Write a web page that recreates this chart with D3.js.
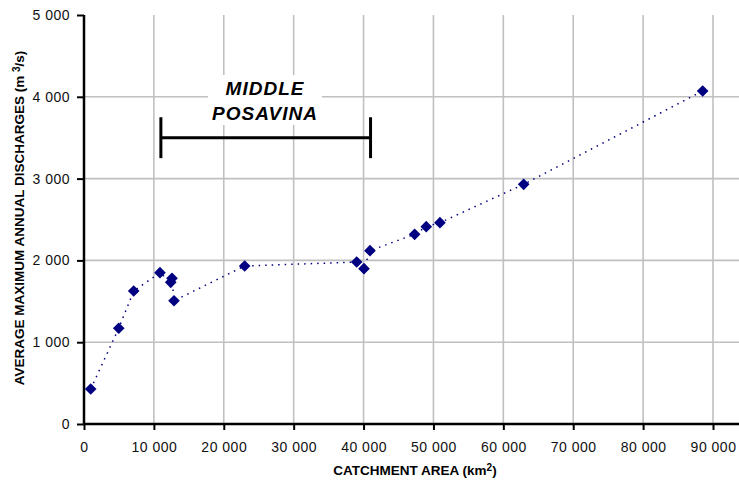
<!DOCTYPE html>
<html>
<head>
<meta charset="utf-8">
<script src="https://cdn.jsdelivr.net/npm/d3@7"></script>
<style>
  body { margin: 0; background: #fff; }
  svg { display: block; font-family: Arial, "Liberation Sans", sans-serif; }
  .tick text { font-size: 14px; fill: #111; }
</style>
</head>
<body>
<div id="container"><svg></svg></div>
<script>
let width = 739;
let height = 482;

// catchment area (km2) and average max annual discharge (m3/s)
let areas      = [960, 4970, 7110, 10870, 12410, 12590, 12880, 22990, 39020, 40060, 40920, 47310, 48970, 50930, 62910, 88520];
let discharges = [428, 1170, 1626, 1850, 1732, 1781, 1507, 1932, 1980, 1899, 2119, 2319, 2412, 2461, 2930, 4071];

let xTicks = [0, 10000, 20000, 30000, 40000, 50000, 60000, 70000, 80000, 90000];
let yTicks = [0, 1000, 2000, 3000, 4000, 5000];

// "middle posavina" bracket: from / to area, discharge level
let bracketArea = [11000, 41000];
let bracketLevel = 3500;
let bracketCap = 250;
let bracketLabel = ['MIDDLE', 'POSAVINA'];

let margin = {left: 84, right: 26, top: 15, bottom: 58};

let x = d3.scaleLinear().domain([0, 90000]).range([margin.left, 713]);
let y = d3.scaleLinear().domain([0, 5000]).range([height - margin.bottom, margin.top]);

let fmt = d => d3.format(',')(d).replace(/,/g, ' ');

let svg = d3.select('#container').select('svg')
    .attr('width', width)
    .attr('height', height);

// grid
let grid = svg.append('g')
    .attr('stroke', '#c0c0c0')
    .attr('stroke-width', 1.6);
grid.selectAll('line.v')
    .data(xTicks.filter(d => d > 0))
    .join('line')
    .attr('x1', d => x(d)).attr('x2', d => x(d))
    .attr('y1', y(5000)).attr('y2', y(0));
grid.selectAll('line.h')
    .data(yTicks.filter(d => d > 0 && d < 5000))
    .join('line')
    .attr('x1', x(0)).attr('x2', width)
    .attr('y1', d => y(d)).attr('y2', d => y(d));

// label box with white background
let lx = 265;
svg.append('rect')
    .attr('x', lx - 57).attr('y', 75)
    .attr('width', 114).attr('height', 50)
    .attr('fill', '#fff');
svg.append('g').selectAll('text')
    .data(bracketLabel)
    .join('text')
    .attr('x', lx)
    .attr('y', (d, i) => 95 + i * 25)
    .attr('text-anchor', 'middle')
    .attr('font-size', 19)
    .attr('font-weight', 'bold')
    .attr('font-style', 'italic')
    .attr('letter-spacing', 1)
    .text(d => d);

// bracket
let br = svg.append('g').attr('stroke', '#000').attr('stroke-width', 3);
br.append('line')
    .attr('x1', x(bracketArea[0])).attr('x2', x(bracketArea[1]))
    .attr('y1', y(bracketLevel)).attr('y2', y(bracketLevel));
br.selectAll('line.cap')
    .data(bracketArea)
    .join('line')
    .attr('x1', d => x(d)).attr('x2', d => x(d))
    .attr('y1', y(bracketLevel + bracketCap)).attr('y2', y(bracketLevel - bracketCap));

// axes
let xAxis = svg.append('g')
    .attr('transform', `translate(0,${y(0)})`)
    .call(d3.axisBottom(x).tickValues(xTicks).tickFormat(fmt).tickSize(6).tickSizeOuter(0).tickPadding(12));
xAxis.select('.domain').remove();
xAxis.selectAll('.tick line').attr('stroke', '#000').attr('stroke-width', 2);
xAxis.selectAll('.tick text').attr('letter-spacing', 0.5);

let yAxis = svg.append('g')
    .attr('transform', `translate(${x(0)},0)`)
    .call(d3.axisLeft(y).tickValues(yTicks).tickFormat(fmt).tickSize(7).tickSizeOuter(0).tickPadding(7));
yAxis.select('.domain').remove();
yAxis.selectAll('.tick line').attr('stroke', '#000').attr('stroke-width', 2);
yAxis.selectAll('.tick text').attr('letter-spacing', 0.5);

svg.append('line')
    .attr('x1', x(0)).attr('x2', width)
    .attr('y1', y(0)).attr('y2', y(0))
    .attr('stroke', '#000').attr('stroke-width', 2.5);
svg.append('line')
    .attr('x1', x(0)).attr('x2', x(0))
    .attr('y1', y(5000)).attr('y2', y(0) + 1)
    .attr('stroke', '#000').attr('stroke-width', 2.5);

// axis titles
svg.append('text')
    .attr('x', 415).attr('y', 475)
    .attr('text-anchor', 'middle')
    .attr('font-size', 13.5)
    .attr('font-weight', 'bold')
    .html('CATCHMENT AREA (km<tspan font-size="10" dy="-4">2</tspan><tspan dy="4">)</tspan>');
svg.append('text')
    .attr('transform', 'translate(24,218) rotate(-90)')
    .attr('text-anchor', 'middle')
    .attr('font-size', 13.5)
    .attr('font-weight', 'bold')
    .html('AVERAGE MAXIMUM ANNUAL DISCHARGES (m <tspan font-size="10" dy="-4">3</tspan><tspan dy="4">/s)</tspan>');

// series
let pts = areas.map((a, i) => ({a: a, q: discharges[i]}));
let linePts = pts.slice().sort((p, q) => p.a - q.a);
svg.append('path')
    .datum(linePts)
    .attr('fill', 'none')
    .attr('stroke', '#000080')
    .attr('stroke-width', 1.5)
    .attr('stroke-dasharray', '1.5,5')
    .attr('d', d3.line().x(d => x(d.a)).y(d => y(d.q)));

svg.append('g').selectAll('path')
    .data(pts)
    .join('path')
    .attr('d', d3.symbol(d3.symbolSquare, 68))
    .attr('transform', d => `translate(${x(d.a)},${y(d.q)}) rotate(45)`)
    .attr('fill', '#000080');
</script>
</body>
</html>
